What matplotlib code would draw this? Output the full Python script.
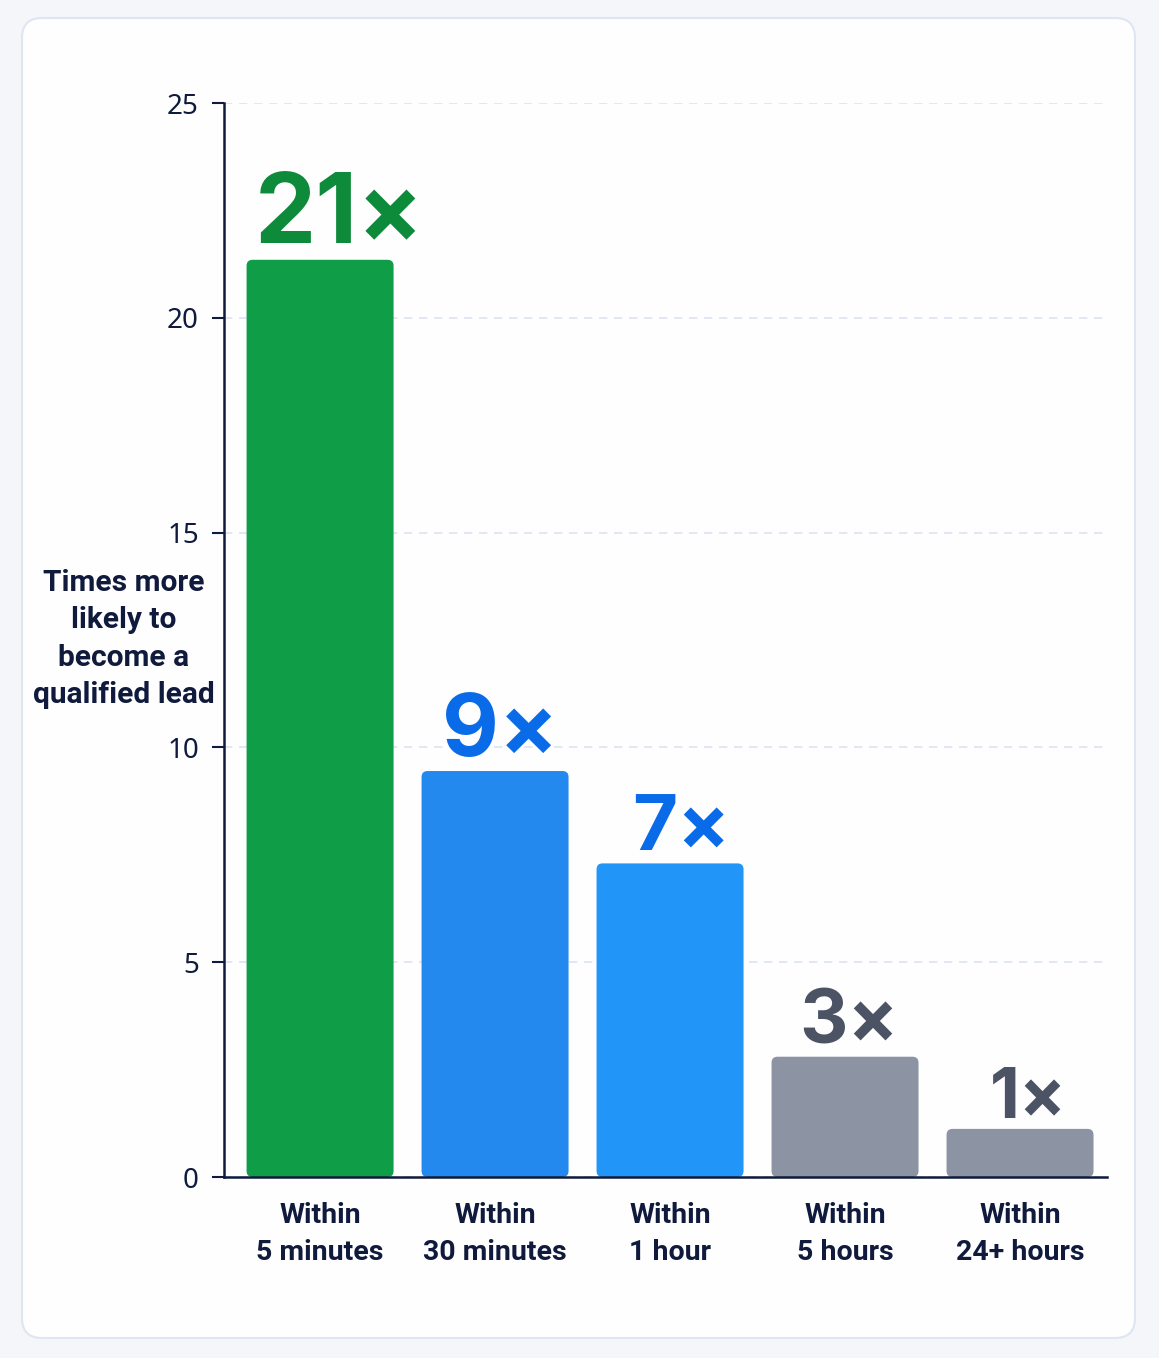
import matplotlib
matplotlib.use("Agg")
import matplotlib.pyplot as plt
from matplotlib.patches import FancyBboxPatch

# data
categories = ["Within\n5 minutes", "Within\n30 minutes", "Within\n1 hour",
              "Within\n5 hours", "Within\n24+ hours"]
values = [21.35, 9.45, 7.3, 2.8, 1.12]
value_labels = ["21×", "9×", "7×", "3×", "1×"]
y_ticks = [0, 5, 10, 15, 20, 25]

# styling
bar_colors = ["#0F9D47", "#2389EE", "#2196F8", "#8C94A4", "#8C94A4"]
label_colors = ["#0D8A3A", "#0A6BE8", "#0A6BE8", "#4B5364", "#4B5364"]
label_sizes = [70, 63, 56, 54, 50]
label_dx = [14, 4, 8, 3, 6]
navy = "#0F1A3C"

W, H = 1159, 1358
fig = plt.figure(figsize=(W / 100, H / 100), dpi=100)
fig.patch.set_facecolor("#F4F6FA")

# card background
card = FancyBboxPatch((22 / W, 1 - 1338 / H), (1135 - 22) / W, (1338 - 18) / H,
                      boxstyle="round,pad=0,rounding_size=%f" % (20 / W),
                      mutation_aspect=W / H, transform=fig.transFigure,
                      facecolor="#FEFEFF", edgecolor="#DFE6F2", linewidth=1.5,
                      zorder=-1)
fig.patches.append(card)

ax = fig.add_axes([224 / W, 1 - 1177 / H, (1107 - 224) / W, (1177 - 103) / H])
ax.set_facecolor("none")
ax.set_zorder(2)

x = list(range(len(categories)))
bars = ax.bar(x, values, width=0.84, color=bar_colors, zorder=3)

# swap plain rectangles for rounded ones
px_x = (1107 - 224) / 5.046
px_y = (1177 - 103) / 25.0
r = 6 / px_x
for b, c in zip(bars, bar_colors):
    b.set_visible(False)
    p = FancyBboxPatch((b.get_x(), 0), b.get_width(), b.get_height(),
                       boxstyle="round,pad=0,rounding_size=%f" % r,
                       mutation_aspect=px_x / px_y,
                       facecolor=c, edgecolor="none", zorder=3)
    ax.add_patch(p)

for xi, v, lab, col, fs, dx in zip(x, values, value_labels, label_colors,
                                   label_sizes, label_dx):
    ax.annotate(lab, (xi, v), xytext=(dx, -2), textcoords="offset points",
                ha="center", va="bottom", fontsize=fs, fontweight="bold",
                color=col, family=["Inter", "DejaVu Sans"], zorder=4,
                annotation_clip=False)

ax.set_xlim(-0.549, 4.497)
ax.set_ylim(0, 25)
ax.set_yticks(y_ticks)
ax.set_yticklabels([str(t) for t in y_ticks], fontsize=20, color=navy,
                   family=["Noto Sans", "DejaVu Sans"])
ax.set_xticks(x)
ax.set_xticklabels(categories, fontsize=20.5, fontweight="bold", color=navy,
                   family=["Roboto", "DejaVu Sans"], linespacing=1.5)
ax.tick_params(axis="x", length=0, pad=18)
ax.tick_params(axis="y", length=9, width=1.5, color=navy, pad=9)

ax.grid(axis="y", color="#DCE4F2", linestyle=(0, (5, 4)), linewidth=1.2, zorder=0)
ax.set_axisbelow(True)
for s in ["top", "right"]:
    ax.spines[s].set_visible(False)
for s in ["left", "bottom"]:
    ax.spines[s].set_color(navy)
    ax.spines[s].set_linewidth(1.8)
    ax.spines[s].set_zorder(5)

fig.text(124 / W, 1 - 639 / H, "Times more\nlikely to\nbecome a\nqualified lead",
         ha="center", va="center", fontsize=21.5, fontweight="bold", color=navy,
         family=["Roboto", "DejaVu Sans"], linespacing=1.42, zorder=3)

fig.savefig("out.png", dpi=100, facecolor=fig.get_facecolor())
